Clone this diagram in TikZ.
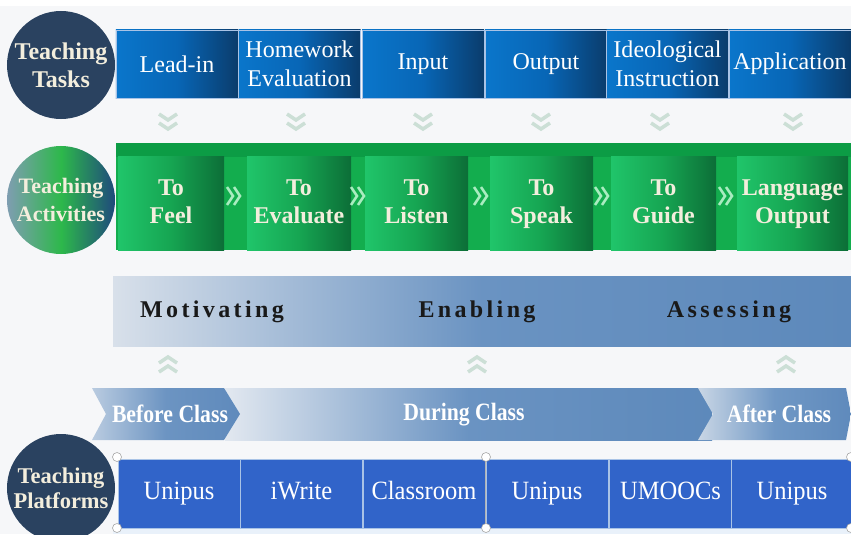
\documentclass[tikz,border=0pt]{standalone}
\usepackage{fontspec}
\setmainfont{LiberationSerif}[Extension=.ttf, UprightFont=*-Regular, BoldFont=*-Bold, ItalicFont=*-Italic, BoldItalicFont=*-BoldItalic]
\newfontfamily\condfont{LiberationSerif}[Extension=.ttf, UprightFont=*-Regular, BoldFont=*-Bold, FakeStretch=0.87]
\newfontfamily\platfont{LiberationSerif}[Extension=.ttf, UprightFont=*-Regular, BoldFont=*-Bold, FakeStretch=0.93]
\newfontfamily\spacedfont{LiberationSerif}[Extension=.ttf, UprightFont=*-Regular, BoldFont=*-Bold, LetterSpace=14]
\definecolor{bgc}{HTML}{F6F7F9}
\definecolor{navy}{HTML}{2A4260}
\definecolor{tL}{HTML}{0A76CB}
\definecolor{tM}{HTML}{0866B6}
\definecolor{tR}{HTML}{0A3C6C}
\definecolor{gBand}{HTML}{13AD4E}
\definecolor{gTop}{HTML}{0C9C45}
\definecolor{gL}{HTML}{20C56A}
\definecolor{gM}{HTML}{16A552}
\definecolor{gR}{HTML}{0C6E37}
\definecolor{chevc}{HTML}{CCDFD6}
\definecolor{gchev}{HTML}{A9ECC0}
\definecolor{cream}{HTML}{F3EEDD}
\definecolor{sL}{HTML}{D8E0EA}
\definecolor{sM}{HTML}{6A93C2}
\definecolor{sR}{HTML}{5D89BB}
\definecolor{platc}{HTML}{3164C9}
\definecolor{divc}{HTML}{A9C3E6}
\definecolor{caL}{HTML}{7F9DB1}
\definecolor{caM}{HTML}{2DB84B}
\definecolor{caR}{HTML}{1F4A7C}
\definecolor{dL}{HTML}{E2E8F0}
\definecolor{bL}{HTML}{B9CBE0}
\definecolor{bM}{HTML}{6C94C2}
\definecolor{bR}{HTML}{5F8ABC}
\definecolor{aL}{HTML}{C9D6E5}
\definecolor{aM}{HTML}{7098C5}
\definecolor{stripc}{HTML}{E9F1FA}
\tikzset{
  taskbox/.style={draw=divc, line width=0.5pt, left color=tL, right color=tR, middle color=tM,
    minimum width=3.66cm, minimum height=2.04cm, inner sep=0pt, align=center, text=white,
    font=\fontsize{20.5}{24.5}\selectfont},
  actbox/.style={left color=gL, right color=gR, middle color=gM,
    minimum height=2.79cm, inner sep=0pt, align=center, text=cream,
    font=\bfseries\fontsize{20.5}{24}\selectfont},
  platbox/.style={draw=divc, line width=0.5pt, fill=platc,
    minimum width=3.66cm, minimum height=2.07cm, inner sep=0pt, align=center, text=white,
    font=\platfont\fontsize{22.5}{24}\selectfont},
  roundlbl/.style={circle, minimum size=3.24cm, inner sep=0pt, align=center, text=cream,
    font=\bfseries\fontsize{20.5}{24}\selectfont},
  chevline/.style={chevc, line width=3pt, line cap=butt, line join=miter},
  gchevline/.style={gchev, line width=2.2pt, line join=miter},
  handle/.style={circle, draw=gray!70, fill=white, line width=0.5pt, minimum size=0.27cm, inner sep=0pt},
  stagetext/.style={font=\spacedfont\bfseries\fontsize{20.5}{22}\selectfont, text=black!90},
  phasetext/.style={font=\condfont\bfseries\fontsize{21.3}{22}\selectfont, text=white},
  downchev/.pic={\draw[chevline] (-9,-8) -- (0,-2) -- (9,-8); \draw[chevline] (-9,1) -- (0,7) -- (9,1);},
  upchev/.pic={\draw[chevline] (-9,-1) -- (0,-7) -- (9,-1); \draw[chevline] (-9,8) -- (0,2) -- (9,8);},
  dblright/.pic={\draw[gchevline] (-7,-9) -- (-1,0) -- (-7,9); \draw[gchevline] (0,-9) -- (6,0) -- (0,9);}
}
\begin{document}
\begin{tikzpicture}[x=0.03cm,y=-0.03cm]
\useasboundingbox (0,0) rectangle (851,534);
\clip (0,0) rectangle (851,534);
\fill[bgc] (0,0) rectangle (851,534);
\fill[white] (0,0) rectangle (851,6);

% ---------- Row 1: Teaching tasks ----------
\node[taskbox] (t1) at (177,64) {Lead-in};
\node[taskbox] (t2) at (299.5,64) {Homework\\Evaluation};
\node[taskbox] (t3) at (423,64) {Input};
\node[taskbox] (t4) at (546,64) {Output};
\node[taskbox] (t5) at (667.5,64) {Ideological\\Instruction};
\node[taskbox] (t6) at (790,64) {Application};
\node[roundlbl, fill=navy] (tt) at (61,65) {Teaching\\Tasks};

\foreach \x in {168,296,423,541,660,793} \pic at (\x,122) {downchev};

% ---------- Row 2: Teaching activities ----------
\fill[gBand] (116,143) rectangle (851,250);
\fill[gTop] (116,143) rectangle (851,157);
\node[actbox, minimum width=3.18cm] (a1) at (171,203.5) {To\strut\\Feel\strut};
\node[actbox, minimum width=3.12cm] (a2) at (299,203.5) {To\strut\\Evaluate\strut};
\node[actbox, minimum width=3.09cm] (a3) at (416.5,203.5) {To\strut\\Listen\strut};
\node[actbox, minimum width=3.09cm] (a4) at (541.5,203.5) {To\strut\\Speak\strut};
\node[actbox, minimum width=3.15cm] (a5) at (663.5,203.5) {To\strut\\Guide\strut};
\node[actbox, minimum width=3.33cm] (a6) at (792.5,203.5) {Language\strut\\Output\strut};
\foreach \x in {234,358,481,602,726} \pic at (\x,196) {dblright};
\node[roundlbl, left color=caL, right color=caR, middle color=caM,
      font=\bfseries\fontsize{18.8}{24}\selectfont] (ta) at (61,200) {Teaching\\Activities};

% ---------- Row 3: stages ----------
\path[left color=sL, right color=sR, middle color=sM] (113,276) rectangle (851,346);
\node[stagetext] (m1) at (212,312) {Motivating};
\node[stagetext] (m2) at (477,312) {Enabling};
\node[stagetext] (m3) at (729,312) {Assessing};
\foreach \x in {168,477,786} \pic at (\x,364) {upchev};

% ---------- Row 4: class phases ----------
\path[left color=dL, right color=sR, middle color=sM] (225,388) rectangle (712,440);
\path[left color=bL, right color=bR, middle color=bM]
  (92,388) -- (224,388) -- (240,414) -- (224,440) -- (92,440) -- (106,414) -- cycle;
\path[left color=aL, right color=bR, middle color=aM]
  (698,388) -- (846,388) -- (851,414) -- (846,440) -- (698,440) -- (713,414) -- cycle;
\node[phasetext] (p1) at (170,414) {Before Class};
\node[phasetext] (p2) at (464,415) {During Class};
\node[phasetext] (p3) at (779,414) {After Class};

% ---------- Row 5: platforms ----------
\fill[stripc] (113,528) rectangle (851,534);
\node[platbox] (u1) at (179,493.5) {Unipus\strut};
\node[platbox] (u2) at (301.5,493.5) {iWrite\strut};
\node[platbox] (u3) at (424,493.5) {Classroom\strut};
\node[platbox] (u4) at (547,493.5) {Unipus\strut};
\node[platbox] (u5) at (670.5,493.5) {UMOOCs\strut};
\node[platbox] (u6) at (792,493.5) {Unipus\strut};
\draw[gray!60, line width=0.5pt] (u4.north west) -- (u4.south west);
\node[roundlbl, fill=navy, font=\bfseries\fontsize{19.2}{21.3}\selectfont] (tp) at (61,488) {Teaching\\Platforms};
\node[handle] (h1) at (117,457) {};
\node[handle] (h2) at (486,457) {};
\node[handle] (h3) at (851,457) {};
\node[handle] (h4) at (117,528) {};
\node[handle] (h5) at (486,528) {};
\node[handle] (h6) at (851,528) {};
\end{tikzpicture}
\end{document}
